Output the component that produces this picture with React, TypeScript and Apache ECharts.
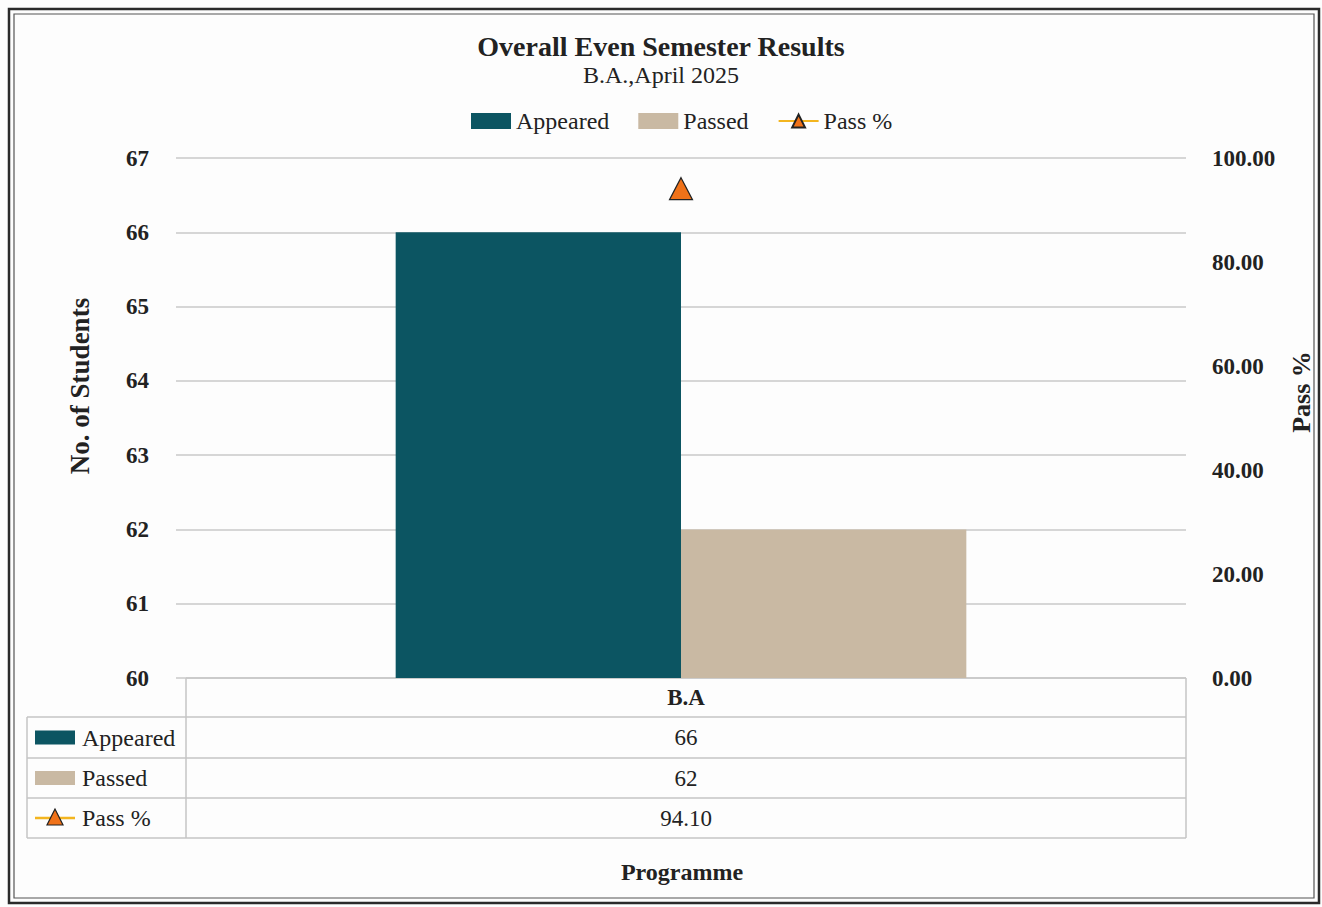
import React, { useEffect, useRef } from "react";
import * as echarts from "echarts";

const categories = ["B.A"];
const appeared = [66];
const passed = [62];
const passPct = [94.1];
const seriesNames = ["Appeared", "Passed", "Pass %"];
const leftTicks = { min: 60, max: 67, interval: 1 };
const rightTicks = { min: 0, max: 100, interval: 20 };

const FONT = "'Liberation Serif', 'DejaVu Serif', serif";
const C_APP = "#0c5562";
const C_PASS = "#c9b9a3";
const C_TRI = "#f07219";
const C_LINE = "#f3b51f";

export default function App() {
  const ref = useRef<HTMLDivElement>(null);
  useEffect(() => {
    const chart = echarts.init(ref.current!, null, { renderer: "svg" });
    const gl = 176, gr = 1186, gt = 158, gb = 678;
    const tl = 186, lx = 27;
    const rowH = [gb, 717, 758, 798, 838];
    const tableVals = [
      String(appeared[0]),
      String(passed[0]),
      passPct[0].toFixed(2),
    ];
    const tcx = (tl + gr) / 2;
    const line = (x1: number, y1: number, x2: number, y2: number) => ({
      type: "line",
      shape: { x1, y1, x2, y2 },
      style: { stroke: "#c4c4c4", lineWidth: 1.5 },
      silent: true,
    });
    const graphics: any[] = [
      { type: "rect", shape: { x: 9, y: 9, width: 1310, height: 894 }, style: { fill: "none", stroke: "#2a2a2a", lineWidth: 2.5 } },
      { type: "rect", shape: { x: 14, y: 14, width: 1300, height: 884 }, style: { fill: "none", stroke: "#555", lineWidth: 1.2 } },
      line(tl, rowH[0], gr, rowH[0]),
      line(tl, rowH[0], tl, rowH[4]),
      line(gr, rowH[0], gr, rowH[4]),
      line(lx, rowH[1], gr, rowH[1]),
      line(lx, rowH[2], gr, rowH[2]),
      line(lx, rowH[3], gr, rowH[3]),
      line(lx, rowH[4], gr, rowH[4]),
      line(lx, rowH[1], lx, rowH[4]),
      {
        type: "text",
        x: tcx,
        y: (rowH[0] + rowH[1]) / 2,
        style: { text: categories[0], font: `bold 23px ${FONT}`, fill: "#222", textAlign: "center", textVerticalAlign: "middle" },
      },
      {
        type: "text",
        x: 682,
        y: 872,
        style: { text: "Programme", font: `bold 24px ${FONT}`, fill: "#222", textAlign: "center", textVerticalAlign: "middle" },
      },
    ];
    seriesNames.forEach((n, i) => {
      const cy = (rowH[i + 1] + rowH[i + 2]) / 2;
      graphics.push({
        type: "text",
        x: tcx,
        y: cy,
        style: { text: tableVals[i], font: `23px ${FONT}`, fill: "#222", textAlign: "center", textVerticalAlign: "middle" },
      });
      graphics.push({
        type: "text",
        x: 82,
        y: cy,
        style: { text: n, font: `24px ${FONT}`, fill: "#222", textAlign: "left", textVerticalAlign: "middle" },
      });
      if (i < 2) {
        graphics.push({
          type: "rect",
          shape: { x: 35, y: cy - 7, width: 40, height: 14 },
          style: { fill: i === 0 ? C_APP : C_PASS },
        });
      } else {
        graphics.push({ type: "line", shape: { x1: 35, y1: cy, x2: 75, y2: cy }, style: { stroke: C_LINE, lineWidth: 2.5 } });
        graphics.push({
          type: "polygon",
          shape: { points: [[55, cy - 9], [47, cy + 7], [63, cy + 7]] },
          style: { fill: C_TRI, stroke: "#222", lineWidth: 1.2 },
        });
      }
    });

    chart.setOption({
      animation: false,
      backgroundColor: "#fdfdfd",
      textStyle: { fontFamily: FONT },
      title: {
        text: "Overall Even Semester Results",
        subtext: "B.A.,April 2025",
        left: "center",
        top: 27,
        itemGap: 3,
        textStyle: { fontFamily: FONT, fontSize: 28, fontWeight: "bold", color: "#222" },
        subtextStyle: { fontFamily: FONT, fontSize: 24, color: "#222" },
      },
      legend: {
        top: 104,
        left: 466,
        itemWidth: 40,
        itemHeight: 16,
        itemGap: 29,
        textStyle: { fontFamily: FONT, fontSize: 24, color: "#222" },
        data: [
          { name: seriesNames[0], icon: "rect" },
          { name: seriesNames[1], icon: "rect" },
          { name: seriesNames[2] },
        ],
      },
      grid: { left: gl, right: 1322 - gr, top: gt, bottom: 907 - gb },
      xAxis: {
        type: "category",
        data: categories,
        axisLine: { show: false },
        axisTick: { show: false },
        axisLabel: { show: false },
      },
      yAxis: [
        {
          type: "value",
          min: leftTicks.min,
          max: leftTicks.max,
          interval: leftTicks.interval,
          name: "No. of Students",
          nameLocation: "middle",
          nameGap: 83,
          nameRotate: 90,
          nameTextStyle: { fontFamily: FONT, fontSize: 27, fontWeight: "bold", color: "#222", padding: [0, 0, 0, 64] },
          axisLabel: { fontFamily: FONT, fontSize: 23, fontWeight: "bold", color: "#222", margin: 27 },
          axisLine: { show: false },
          axisTick: { show: false },
          splitLine: { lineStyle: { color: "#c8c8c8", width: 1.5 } },
        },
        {
          type: "value",
          min: rightTicks.min,
          max: rightTicks.max,
          interval: rightTicks.interval,
          name: "Pass %",
          nameLocation: "middle",
          nameGap: 102,
          nameRotate: 90,
          nameTextStyle: { fontFamily: FONT, fontSize: 26, fontWeight: "bold", color: "#222", padding: [0, 0, 0, 52] },
          axisLabel: {
            fontFamily: FONT,
            fontSize: 23,
            fontWeight: "bold",
            color: "#222",
            margin: 26,
            formatter: (v: number) => v.toFixed(2),
          },
          axisLine: { show: false },
          axisTick: { show: false },
          splitLine: { show: false },
        },
      ],
      series: [
        {
          name: seriesNames[0],
          type: "bar",
          data: appeared,
          itemStyle: { color: C_APP },
          barGap: "0%",
          barCategoryGap: "43.5%",
        },
        {
          name: seriesNames[1],
          type: "bar",
          data: passed,
          itemStyle: { color: C_PASS },
        },
        {
          name: seriesNames[2],
          type: "line",
          yAxisIndex: 1,
          data: passPct,
          symbol: "triangle",
          symbolSize: [23, 22],
          lineStyle: { color: C_LINE, width: 2.5 },
          itemStyle: { color: C_TRI, borderColor: "#222", borderWidth: 1.2 },
        },
      ],
      graphic: graphics,
    });
    return () => chart.dispose();
  }, []);
  return (
    <div
      ref={ref}
      style={{ position: "fixed", left: 0, top: 0, width: 1322, height: 907 }}
    />
  );
}
